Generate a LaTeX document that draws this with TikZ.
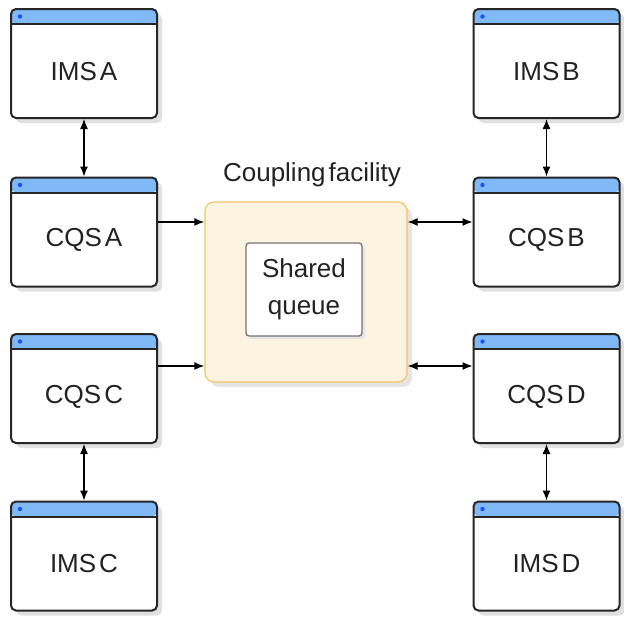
\documentclass[tikz,border=0pt]{standalone}
\usepackage{fontspec}
\setmainfont{Liberation Sans}
\usetikzlibrary{arrows.meta,shadows}
\definecolor{hdrblue}{HTML}{80B9F5}
\definecolor{dotblue}{HTML}{1155FF}
\definecolor{cffill}{HTML}{FDF3E1}
\definecolor{cfdraw}{HTML}{F5C36C}
\definecolor{txt}{HTML}{222222}
\newcommand\wfontsel{\fontsize{26}{30}\selectfont\spaceskip=3pt plus 1pt\relax}
\tikzset{
  win/.style={draw=black!85, line width=2pt, rounded corners=5pt, fill=white,
    minimum width=146pt, minimum height=109pt, inner sep=0pt,
    drop shadow={shadow xshift=5pt, shadow yshift=-5pt, fill=black!12, opacity=1},
    path picture={
      \fill[hdrblue] (path picture bounding box.north west) rectangle ([yshift=-15pt]path picture bounding box.north east);
      \draw[black!85, line width=2pt] ([yshift=-15pt]path picture bounding box.north west) -- ([yshift=-15pt]path picture bounding box.north east);
      \fill[dotblue] ([xshift=9pt,yshift=-7.5pt]path picture bounding box.north west) circle (2.2pt);
    }},
  wtext/.style={font=\wfontsel, text=txt},
  arr/.style={line width=1.3pt, black, {Latex[length=10pt,width=8pt]}-{Latex[length=10pt,width=8pt]}},
  arrone/.style={line width=1.3pt, black, -{Latex[length=10pt,width=8pt]}},
}
\begin{document}
\begin{tikzpicture}[x=1pt,y=-1pt]
\useasboundingbox (0,0) rectangle (624,621);
% windows
\node[win, label={[wtext,yshift=-8pt]center:IMS A}] (imsA) at (84,63.5) {};
\node[win, label={[wtext,yshift=-8pt]center:CQS A}] (cqsA) at (84,232) {};
\node[win, label={[wtext,yshift=-8pt]center:CQS C}] (cqsC) at (84,388.5) {};
\node[win, label={[wtext,yshift=-8pt]center:IMS C}] (imsC) at (84,556) {};
\node[win, label={[wtext,yshift=-8pt]center:IMS B}] (imsB) at (546.5,63.5) {};
\node[win, label={[wtext,yshift=-8pt]center:CQS B}] (cqsB) at (546.5,232) {};
\node[win, label={[wtext,yshift=-8pt]center:CQS D}] (cqsD) at (546.5,388.5) {};
\node[win, label={[wtext,yshift=-8pt]center:IMS D}] (imsD) at (546.5,556) {};
% coupling facility
\node[draw=cfdraw, fill=cffill, line width=1.3pt, rounded corners=9pt,
  minimum width=202pt, minimum height=180pt, inner sep=0pt,
  drop shadow={shadow xshift=5pt, shadow yshift=-5pt, fill=black!10, opacity=1}] (cf) at (306,292) {};
\node[wtext] (cflabel) at (312,175) {Coupling facility};
\node[draw=black!55, fill=white, line width=1.3pt, rounded corners=3pt,
  minimum width=116pt, minimum height=93pt, inner sep=0pt, align=center,
  wtext, drop shadow={shadow xshift=3pt, shadow yshift=-3pt, fill=black!10, opacity=1}] (sq) at (304,289.5) {Shared\\[7pt]queue};
% connectors
\draw[arr] (imsA) -- (cqsA);
\draw[arr] (cqsC) -- (imsC);
\draw[arr] (imsB) -- (cqsB);
\draw[arr] (cqsD) -- (imsD);
\draw[arrone] (cqsA.east |- 0,222) -- (cf.west |- 0,222);
\draw[arrone] (cqsC.east |- 0,366) -- (cf.west |- 0,366);
\draw[arr] (cf.east |- 0,222) -- (cqsB.west |- 0,222);
\draw[arr] (cf.east |- 0,366) -- (cqsD.west |- 0,366);
\end{tikzpicture}
\end{document}
